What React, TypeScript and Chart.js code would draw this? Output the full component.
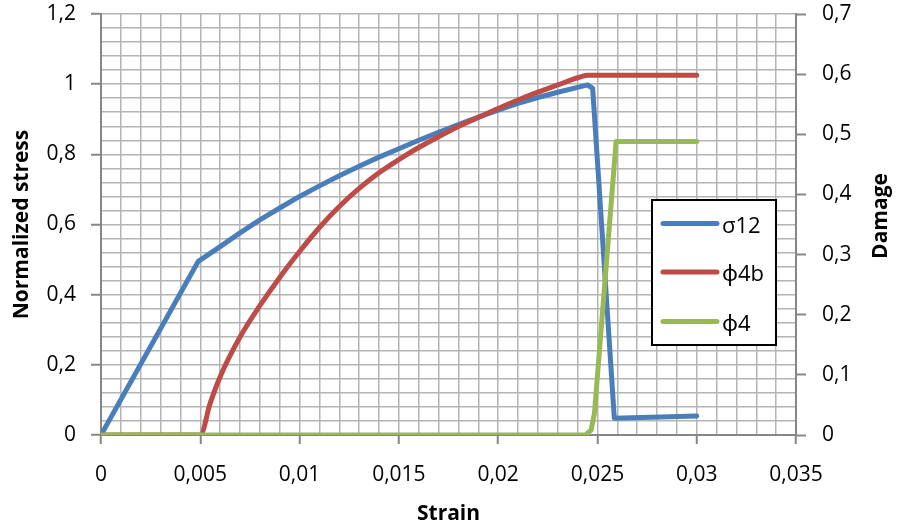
import React, { useEffect, useRef } from "react";
import { Chart, registerables } from "chart.js";

Chart.register(...registerables);

// ---- data ----
const stressStrain = [0, 0.0049, 0.006, 0.007, 0.008, 0.009, 0.01, 0.011, 0.012, 0.013, 0.014, 0.015, 0.016, 0.017, 0.018, 0.019, 0.02, 0.021, 0.022, 0.023, 0.024, 0.0245, 0.02476, 0.02585, 0.03];
const stressValues = [0, 0.495, 0.537, 0.576, 0.613, 0.647, 0.68, 0.71, 0.739, 0.766, 0.792, 0.816, 0.84, 0.863, 0.885, 0.906, 0.926, 0.945, 0.962, 0.977, 0.991, 0.998, 0.988, 0.048, 0.054];

const phi4bStrain = [0, 0.005, 0.0055, 0.006, 0.007, 0.008, 0.009, 0.01, 0.011, 0.012, 0.013, 0.014, 0.015, 0.016, 0.017, 0.018, 0.019, 0.02, 0.021, 0.022, 0.023, 0.024, 0.0245, 0.03];
const phi4bValues = [0, 0, 0.053, 0.097, 0.163, 0.215, 0.262, 0.305, 0.345, 0.38, 0.41, 0.436, 0.458, 0.478, 0.496, 0.513, 0.528, 0.543, 0.557, 0.57, 0.582, 0.594, 0.598, 0.598];

const phi4Strain = [0, 0.0244, 0.02468, 0.02485, 0.02594, 0.03];
const phi4Values = [0, 0, 0.008, 0.036, 0.488, 0.488];

const seriesLabels = ["σ12", "ϕ4b", "ϕ4"];
const seriesColors = ["#4A7EBB", "#BE4B48", "#98B954"];

const xTitle = "Strain";
const leftTitle = "Normalized stress";
const rightTitle = "Damage";

const xMin = 0, xMax = 0.035, xMinorStep = 0.001, xMajorStep = 0.005;
const yMin = 0, yMax = 1.2, yMinorStep = 0.04, yMajorStep = 0.2;
const y1Min = 0, y1Max = 0.7, y1Step = 0.1;

const FONT = '"Open Sans", "Noto Sans", sans-serif';

const isMajor = (v: number, step: number) => Math.abs(v / step - Math.round(v / step)) < 1e-6;
const fmt = (v: number, dec: number) => {
  const f = Math.pow(10, dec);
  return String(Math.round(v * f) / f).replace(".", ",");
};

const toPoints = (xs: number[], ys: number[]) => xs.map((x, i) => ({ x, y: ys[i] }));

const GRID = "#b4b4b4";
const AXIS = "#868686";

const overlayPlugin = {
  id: "overlay",
  afterDraw(chart: any) {
    const ctx = chart.ctx as CanvasRenderingContext2D;
    // right axis title (reads bottom to top)
    ctx.save();
    ctx.font = `bold 21px ${FONT}`;
    ctx.fillStyle = "#000";
    ctx.translate(881, 216);
    ctx.rotate(-Math.PI / 2);
    ctx.textAlign = "center";
    ctx.textBaseline = "middle";
    ctx.fillText(rightTitle, 0, 0);
    ctx.restore();

    // legend box
    ctx.save();
    const bx = 652, by = 200, bw = 124, bh = 145;
    ctx.fillStyle = "#fff";
    ctx.fillRect(bx, by, bw, bh);
    ctx.strokeStyle = "#000";
    ctx.lineWidth = 2;
    ctx.strokeRect(bx, by, bw, bh);
    const rows = [223.5, 272, 321.5];
    ctx.font = `22px ${FONT}`;
    ctx.textBaseline = "middle";
    ctx.textAlign = "left";
    seriesLabels.forEach((lab, i) => {
      ctx.strokeStyle = seriesColors[i];
      ctx.lineWidth = 5;
      ctx.lineCap = "round";
      ctx.beginPath();
      ctx.moveTo(663, rows[i]);
      ctx.lineTo(717, rows[i]);
      ctx.stroke();
      ctx.fillStyle = "#000";
      ctx.fillText(lab, 722, rows[i] + 3);
    });
    ctx.restore();
  },
};

export default function App() {
  const ref = useRef<HTMLCanvasElement | null>(null);
  useEffect(() => {
    document.body.style.margin = "0";
    const canvas = ref.current!;
    const tickFont = { family: FONT, size: 21 };
    const titleFont = { family: FONT, size: 21, weight: "bold" as const };
    const chart = new Chart(canvas, {
      type: "line",
      data: {
        datasets: [
          {
            label: seriesLabels[0],
            data: toPoints(stressStrain, stressValues),
            borderColor: seriesColors[0],
            backgroundColor: seriesColors[0],
            yAxisID: "y",
            order: 3,
          },
          {
            label: seriesLabels[1],
            data: toPoints(phi4bStrain, phi4bValues),
            borderColor: seriesColors[1],
            backgroundColor: seriesColors[1],
            yAxisID: "y1",
            order: 2,
            cubicInterpolationMode: "monotone",
          },
          {
            label: seriesLabels[2],
            data: toPoints(phi4Strain, phi4Values),
            borderColor: seriesColors[2],
            backgroundColor: seriesColors[2],
            yAxisID: "y1",
            order: 1,
          },
        ],
      },
      options: {
        responsive: false,
        animation: false,
        parsing: false as any,
        layout: { padding: { top: 14, left: 0, right: 0, bottom: 0 } },
        elements: {
          point: { radius: 0, hoverRadius: 0 },
          line: { borderWidth: 5, tension: 0, borderJoinStyle: "round", borderCapStyle: "round", fill: false },
        },
        plugins: {
          legend: { display: false },
          tooltip: { enabled: false },
        },
        scales: {
          x: {
            type: "linear",
            position: "bottom",
            min: xMin,
            max: xMax,
            afterFit: (s: any) => { s.height = 93; s.paddingLeft = 0; s.paddingRight = 0; },
            ticks: {
              stepSize: xMinorStep,
              autoSkip: false,
              maxRotation: 0,
              minRotation: 0,
              padding: 18,
              color: "#000",
              font: tickFont,
              callback: (v: any) => (isMajor(Number(v), xMajorStep) ? fmt(Number(v), 3) : ""),
            },
            grid: {
              color: GRID,
              lineWidth: 1.5,
              tickLength: 9,
              tickWidth: 2,
              tickColor: (c: any) => (c.tick && isMajor(c.tick.value, xMajorStep) ? AXIS : "rgba(0,0,0,0)"),
            },
            border: { color: AXIS, width: 2 },
            title: { display: true, text: xTitle, font: titleFont, color: "#000", padding: { top: 0, bottom: 1 } },
          },
          y: {
            type: "linear",
            position: "left",
            min: yMin,
            max: yMax,
            afterFit: (s: any) => { s.width = 101; s.paddingTop = 0; s.paddingBottom = 0; },
            ticks: {
              stepSize: yMinorStep,
              autoSkip: false,
              padding: 15,
              color: "#000",
              font: tickFont,
              callback: (v: any) => (isMajor(Number(v), yMajorStep) ? fmt(Number(v), 1) : ""),
            },
            grid: {
              color: GRID,
              lineWidth: 1.5,
              tickLength: 10,
              tickWidth: 2,
              tickColor: (c: any) => (c.tick && isMajor(c.tick.value, yMajorStep) ? AXIS : "rgba(0,0,0,0)"),
            },
            border: { color: AXIS, width: 2 },
            title: { display: true, text: leftTitle, font: titleFont, color: "#000", padding: { top: 9, bottom: 0 } },
          },
          y1: {
            type: "linear",
            position: "right",
            min: y1Min,
            max: y1Max,
            afterFit: (s: any) => { s.width = 101; s.paddingTop = 0; s.paddingBottom = 0; },
            ticks: {
              stepSize: y1Step,
              autoSkip: false,
              padding: 16,
              color: "#000",
              font: tickFont,
              callback: (v: any) => fmt(Number(v), 1),
            },
            grid: {
              drawOnChartArea: false,
              tickLength: 10,
              tickWidth: 2,
              tickColor: AXIS,
            },
            border: { color: AXIS, width: 2 },
          },
        },
      },
      plugins: [overlayPlugin],
    } as any);
    return () => chart.destroy();
  }, []);
  return (
    <div style={{ width: 897, height: 528, background: "#fff" }}>
      <canvas ref={ref} width={897} height={528} />
    </div>
  );
}
